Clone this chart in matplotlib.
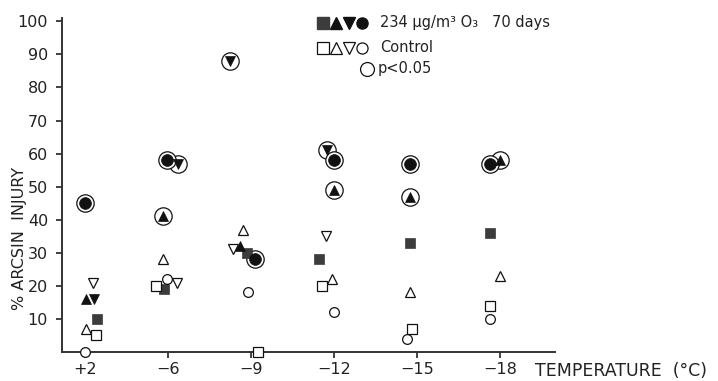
import numpy as np
import matplotlib
matplotlib.use("Agg")
import matplotlib.pyplot as plt

# temperatures (categories on the x axis)
temps = ["+2", "\u22126", "\u22129", "\u221212", "\u221215", "\u221218"]

# % arcsin injury, ozone treated (filled symbols); nan = not measured
ozone_square = [10, 19, 30, 28, 33, 36]
ozone_tri_up = [16, 41, 32, 49, 47, 58]
ozone_tri_down = [16, 57, 88, 61, np.nan, np.nan]
ozone_circle = [45, 58, 28, 58, 57, 57]

# significance (p < 0.05) rings on ozone points
sig_square = [False, False, False, False, False, False]
sig_tri_up = [False, True, False, True, True, True]
sig_tri_down = [False, True, True, True, False, False]
sig_circle = [True, True, True, True, True, True]

# control (open symbols)
control_square = [5, 20, 0, 20, 7, 14]
control_tri_up = [7, 28, 37, 22, 18, 23]
control_tri_down = [21, 21, 31, 35, np.nan, np.nan]
control_circle = [0, 22, 18, 12, 4, 10]

# small horizontal shifts so overlapping symbols stay visible
shift_ozone_square = [0.14, -0.05, -0.05, -0.18, -0.08, -0.12]
shift_ozone_tri_up = [0.01, -0.06, -0.13, 0.0, -0.08, 0.0]
shift_ozone_tri_down = [0.11, 0.12, -0.25, -0.08, 0, 0]
shift_ozone_circle = [0.0, -0.01, 0.05, 0.0, -0.08, -0.12]
shift_control_square = [0.13, -0.14, 0.08, -0.14, -0.06, -0.12]
shift_control_tri_up = [0.01, -0.06, -0.10, -0.02, -0.08, 0.0]
shift_control_tri_down = [0.10, 0.11, -0.22, -0.10, 0, 0]
shift_control_circle = [0.0, -0.01, -0.04, 0.0, -0.12, -0.12]

fig = plt.figure(figsize=(7.18, 3.81), dpi=100)
ax = fig.add_axes([62 / 718, 29 / 381, 493 / 718, 334 / 381])
x = np.arange(len(temps))

font = "DejaVu Sans"
lw = 0.9
dark = "#111111"
grey = "#3c3c3c"


def draw_ozone(vals, shifts, sig, marker, ms, color):
    xs = x + np.array(shifts)
    vals = np.array(vals, dtype=float)
    sig = np.array(sig)
    ax.plot(xs[sig], vals[sig], linestyle="none", marker="o", ms=12.5,
            mfc="white", mec=dark, mew=lw, clip_on=False, zorder=2)
    ax.plot(xs, vals, linestyle="none", marker=marker, ms=ms,
            mfc=color, mec=color, mew=0.5, clip_on=False, zorder=3)


def draw_control(vals, shifts, marker, ms):
    xs = x + np.array(shifts)
    ax.plot(xs, vals, linestyle="none", marker=marker, ms=ms,
            mfc="white", mec=dark, mew=lw, clip_on=False, zorder=4)


draw_control(control_square, shift_control_square, "s", 7)
draw_control(control_tri_up, shift_control_tri_up, "^", 7)
draw_control(control_tri_down, shift_control_tri_down, "v", 7)
draw_control(control_circle, shift_control_circle, "o", 7)

draw_ozone(ozone_square, shift_ozone_square, sig_square, "s", 6.5, grey)
draw_ozone(ozone_tri_up, shift_ozone_tri_up, sig_tri_up, "^", 7.5, dark)
draw_ozone(ozone_tri_down, shift_ozone_tri_down, sig_tri_down, "v", 7.5, dark)
draw_ozone(ozone_circle, shift_ozone_circle, sig_circle, "o", 8.5, dark)

ax.set_xlim(-0.277, 5.663)
ax.set_ylim(0, 101)
ax.set_xticks(x)
ax.set_xticklabels(temps, fontsize=11.5, family=font)
ax.set_yticks(range(10, 101, 10))
ax.set_yticklabels([str(v) for v in range(10, 101, 10)], fontsize=11.5,
                   family=font)
ax.tick_params(axis="both", direction="out", length=4, width=1.2,
               colors="#222222", pad=6)
ax.tick_params(axis="x", pad=3)
for side in ["top", "right"]:
    ax.spines[side].set_visible(False)
for side in ["left", "bottom"]:
    ax.spines[side].set_linewidth(1.4)
    ax.spines[side].set_color("#333333")

fig.text(20 / 718, 1 - 238 / 381, "% ARCSIN  INJURY", rotation=90,
         ha="center", va="center", fontsize=11.5, family=font, color="#222222")
fig.text(535 / 718, 1 - 371 / 381, "TEMPERATURE  (\u00b0C)", ha="left",
         va="center", fontsize=12.5, family=font, color="#222222")

# legend drawn by hand, like the original
leg_x = [323, 336, 349, 362]
for xp, m, c in zip(leg_x, ["s", "^", "v", "o"], [grey, dark, dark, dark]):
    fig.lines.append(plt.Line2D([xp / 718], [1 - 23 / 381], marker=m, ms=8,
                                mfc=c, mec=c, linestyle="none",
                                transform=fig.transFigure))
    fig.lines.append(plt.Line2D([xp / 718], [1 - 48 / 381], marker=m, ms=8,
                                mfc="white", mec=dark, mew=lw,
                                linestyle="none", transform=fig.transFigure))
fig.lines.append(plt.Line2D([367 / 718], [1 - 69 / 381], marker="o", ms=10,
                            mfc="white", mec=dark, mew=lw, linestyle="none",
                            transform=fig.transFigure))
fig.text(380 / 718, 1 - 23 / 381, "234 \u00b5g/m\u00b3 O\u2083   70 days",
         va="center", fontsize=10.5, family=font, color="#222222")
fig.text(380 / 718, 1 - 48 / 381, "Control", va="center", fontsize=10.5,
         family=font, color="#222222")
fig.text(378 / 718, 1 - 69 / 381, "p<0.05", va="center", fontsize=10.5,
         family=font, color="#222222")

fig.savefig("out.png", dpi=100)
